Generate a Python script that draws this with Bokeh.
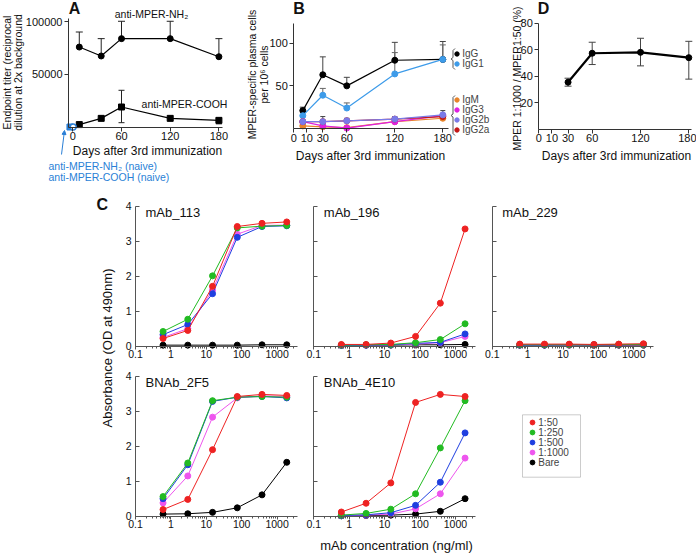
import math
from bokeh.plotting import figure
from bokeh.layouts import row, column
from bokeh.models import (Range1d, FixedTicker, Label, Legend, LegendItem, Whisker,
                          TeeHead, NormalHead, Arrow, ColumnDataSource, BoxAnnotation,
                          NumeralTickFormatter, LogTicker)
from bokeh.embed import file_html
from bokeh.resources import INLINE

FONT = "Liberation Sans"

# ---------------- data ----------------
# Panel A : endpoint titers
a_days = [8, 35, 60, 120, 180]
a_nh2 = [76000, 67500, 84000, 84000, 66800]
a_nh2_hi = [90300, 84000, 100500, 100500, 84000]
a_cooh = [2300, 8200, 19000, 8200, 6300]
a_cooh_lo = [2300, 8200, 4100, 8200, 3000]
a_cooh_hi = [2300, 8200, 34900, 8200, 8500]
a_naive_days = [-3.5, 0.5]
a_naive_vals = [0, 0]
a_xticks = [0, 60, 120, 180]
a_yticks = [50000, 100000]

# Panel B : plasma cells per 10^6 cells
b_days = [5, 30, 60, 120, 180]
b_igg = [21, 63, 50, 80, 81]
b_igg_hi = [25, 84, 60, 101, 102]
b_igg1 = [15, 39, 24, 64, 81]
b_igg1_hi = [15, 47, 30, 89, 98]
b_igm = [3, 2, 1, 8, 12]
b_igg3 = [8, 3, 0.5, 8, 15]
b_igg2b = [8, 8, 9, 11, 16]
b_igg2b_hi = [8, 14, 12, 14, 21]
b_igg2a = [8, 8, 9, 11, 14]
b_xticks = [10, 30, 60, 120, 180]
b_yticks = [50, 100]

# Panel D : MPER 1:1000 / MPER 1:50 (%)
d_days = [30, 60, 120, 180]
d_vals = [35.5, 57.3, 58.0, 54.0]
d_lo = [32.5, 48.8, 47.8, 37.8]
d_hi = [38.5, 65.6, 68.6, 66.3]
d_xticks = [10, 30, 60, 120, 180]
d_yticks = [20, 40, 60, 80]

# Panel C : absorbance vs mAb concentration (ng/ml)
c_conc = [0.6, 3, 15, 75, 375, 1875]
c_dilutions = ["1:50", "1:250", "1:500", "1:1000", "Bare"]
c_113 = {"1:50": [0.22, 0.45, 1.71, 3.42, 3.51, 3.55],
         "1:250": [0.42, 0.77, 2.01, 3.38, 3.43, 3.45],
         "1:500": [0.33, 0.62, 1.50, 3.11, 3.42, 3.44],
         "1:1000": [0.25, 0.50, 1.60, 3.20, 3.45, 3.46],
         "Bare": [0.03, 0.03, 0.03, 0.03, 0.04, 0.04]}
c_196 = {"1:50": [0.05, 0.05, 0.09, 0.28, 1.23, 3.35],
         "1:250": [0.03, 0.04, 0.05, 0.10, 0.19, 0.64],
         "1:500": [0.02, 0.03, 0.04, 0.08, 0.11, 0.35],
         "1:1000": [0.02, 0.03, 0.04, 0.06, 0.10, 0.28],
         "Bare": [0.03, 0.03, 0.03, 0.04, 0.04, 0.05]}
c_229 = {"1:50": [0.06, 0.06, 0.06, 0.05, 0.06, 0.07],
         "1:250": [0.04, 0.04, 0.04, 0.04, 0.05, 0.05],
         "1:500": [0.03, 0.03, 0.04, 0.04, 0.04, 0.05],
         "1:1000": [0.03, 0.03, 0.03, 0.04, 0.04, 0.04],
         "Bare": [0.03, 0.03, 0.03, 0.03, 0.03, 0.03]}
c_2f5 = {"1:50": [0.19, 0.48, 1.90, 3.42, 3.48, 3.45],
         "1:250": [0.56, 1.52, 3.30, 3.40, 3.42, 3.40],
         "1:500": [0.50, 1.47, 3.28, 3.40, 3.42, 3.38],
         "1:1000": [0.38, 1.15, 2.83, 3.38, 3.44, 3.42],
         "Bare": [0.06, 0.07, 0.11, 0.24, 0.61, 1.54]}
c_4e10 = {"1:50": [0.12, 0.37, 0.95, 3.25, 3.48, 3.42],
          "1:250": [0.03, 0.08, 0.20, 0.64, 1.95, 3.30],
          "1:500": [0.02, 0.04, 0.10, 0.31, 0.97, 2.38],
          "1:1000": [0.02, 0.03, 0.06, 0.21, 0.64, 1.66],
          "Bare": [0.01, 0.02, 0.03, 0.06, 0.14, 0.50]}
c_yticks = [0, 1, 2, 3, 4]

C_COLORS = {"1:50": "#ee2222", "1:250": "#22bb22", "1:500": "#1f3fe0",
            "1:1000": "#ee55ee", "Bare": "#000000"}
NAIVE_BLUE = "#2a7fd6"
AX = "#333333"


# ---------------- helpers ----------------
def lin_x(box, px_zero, ppu):
    X0, Y0, W, H = box
    return Range1d((X0 - px_zero) / ppu, (X0 + W - px_zero) / ppu)


def lin_y(box, py_zero, ppu):
    X0, Y0, W, H = box
    return Range1d((py_zero - (Y0 + H)) / ppu, (py_zero - Y0) / ppu)


def log_x(box, px_one, ppd):
    X0, Y0, W, H = box
    return Range1d(10 ** ((X0 - px_one) / ppd), 10 ** ((X0 + W - px_one) / ppd))


def mkfig(box, xr, yr, log=False, axes=True):
    X0, Y0, W, H = box
    kw = dict(width=W, height=H, x_range=xr, y_range=yr, title=None,
              toolbar_location=None, output_backend="svg",
              min_border=0, min_border_left=0, min_border_right=0,
              min_border_top=0, min_border_bottom=0)
    if log:
        kw["x_axis_type"] = "log"
    if not axes:
        kw["x_axis_location"] = None
        kw["y_axis_location"] = None
    p = figure(**kw)
    p.outline_line_color = None
    p.grid.visible = False
    p.background_fill_color = "white"
    p.border_fill_color = "white"
    return p


def style_axis(ax, fs="11px", color=AX):
    ax.axis_line_color = color
    ax.major_tick_line_color = color
    ax.minor_tick_line_color = None
    ax.major_label_text_font = FONT
    ax.major_label_text_font_size = fs
    ax.major_label_text_color = "#111111"
    ax.major_tick_in = 0
    ax.major_tick_out = 4
    ax.major_label_standoff = 2


def lab(p, box, px, py, text, size, align="center", baseline="middle",
        angle=0.0, color="#111111", bold=False):
    X0, Y0, W, H = box
    p.add_layout(Label(x=px - X0, y=Y0 + H - py, x_units="screen", y_units="screen",
                       text=text, text_font=FONT, text_font_size=f"{size}px",
                       text_align=align, text_baseline=baseline, angle=angle,
                       text_color=color,
                       text_font_style="bold" if bold else "normal"))


def seg(p, box, x0, y0, x1, y1, color, head=None, width=1):
    X0, Y0, W, H = box
    p.add_layout(Arrow(x_start=x0 - X0, y_start=Y0 + H - y0, x_end=x1 - X0, y_end=Y0 + H - y1,
                       start_units="screen", end_units="screen", end=head,
                       line_color=color, line_width=width))


def whisk(p, base, lo, hi, color, lower=False, size=7, width=1):
    b2, l2, h2 = [], [], []
    for b, l, h in zip(base, lo, hi):
        if h - l > 0:
            b2.append(b); l2.append(l); h2.append(h)
    src = ColumnDataSource(dict(base=b2, lower=l2, upper=h2))
    p.add_layout(Whisker(base="base", lower="lower", upper="upper", source=src,
                         dimension="height", line_color=color, line_width=width,
                         upper_head=TeeHead(size=size, line_color=color, line_width=width),
                         lower_head=TeeHead(size=size, line_color=color, line_width=width) if lower else None))


def one_legend(p, box, renderer, text, dot_x, cy, glyph, fs, h):
    X0, Y0, W, H = box
    p.add_layout(Legend(items=[LegendItem(label=text, renderers=[renderer])],
                        location=(dot_x - glyph / 2 - X0, Y0 + H - (cy + h / 2)),
                        border_line_color=None, background_fill_alpha=0,
                        inactive_fill_alpha=0, padding=0, margin=0,
                        glyph_width=glyph, glyph_height=glyph, label_standoff=0,
                        label_height=int(h), label_text_font=FONT,
                        label_text_font_size=fs))


# ---------------- Panel A ----------------
BA = (0, 0, 240, 190)
A = mkfig(BA, lin_x(BA, 72.3, 0.8117), lin_y(BA, 126.5, 52.6 / 50000))
style_axis(A.xaxis[0]); style_axis(A.yaxis[0])
A.xaxis.fixed_location = 0
A.xaxis.bounds = (-5.3, 184)
A.xaxis.ticker = FixedTicker(ticks=a_xticks)
A.xaxis.major_label_standoff = 1
A.yaxis.fixed_location = -5.3
A.yaxis.bounds = (0, 102800)
A.yaxis.ticker = FixedTicker(ticks=a_yticks)
A.yaxis.formatter = NumeralTickFormatter(format="0")
whisk(A, a_days, a_nh2, a_nh2_hi, "#222222")
whisk(A, a_days, a_cooh_lo, a_cooh_hi, "#222222", lower=True, size=6)
A.line(a_days, a_nh2, line_color="black", line_width=1.2)
A.scatter(a_days, a_nh2, marker="circle", size=6, color="black")
A.line(a_days, a_cooh, line_color="black", line_width=1.2)
A.scatter(a_days, a_cooh, marker="square", size=6, color="black")
A.scatter(a_naive_days[:1], a_naive_vals[:1], marker="square", size=6, color=NAIVE_BLUE)
A.scatter(a_naive_days[1:], a_naive_vals[1:], marker="circle", size=6,
          fill_color="white", line_color=NAIVE_BLUE, line_width=1.5)
lab(A, BA, 74, 8, "A", 16, bold=True)
lab(A, BA, 151, 13, "anti-MPER-NH\u2082", 10.5)
lab(A, BA, 184, 103, "anti-MPER-COOH", 10.5)
lab(A, BA, 147, 150, "Days after 3rd immunization", 12)
lab(A, BA, 48, 165, "anti-MPER-NH\u2082 (naive)", 10.5, align="left", color=NAIVE_BLUE)
lab(A, BA, 48, 176, "anti-MPER-COOH (naive)", 10.5, align="left", color=NAIVE_BLUE)
lab(A, BA, 6.5, 72, "Endpoint titer (reciprocal", 10.5, angle=math.pi / 2)
lab(A, BA, 17.5, 72, "dilution at 2x background", 10.5, angle=math.pi / 2)
seg(A, BA, 61, 154, 64, 130, NAIVE_BLUE,
    head=NormalHead(size=4, fill_color=NAIVE_BLUE, line_color=NAIVE_BLUE))

# ---------------- Panel B ----------------
BB = (240, 0, 250, 190)
B = mkfig(BB, lin_x(BB, 298.3, 0.8), lin_y(BB, 128, 0.853))
style_axis(B.xaxis[0]); style_axis(B.yaxis[0])
B.xaxis.fixed_location = 0
B.xaxis.bounds = (-6.25, 187)
B.xaxis.ticker = FixedTicker(ticks=[-6.25] + b_xticks)
B.xaxis.major_label_overrides = {-6.25: "0"}
B.xaxis.major_label_standoff = 1
B.yaxis.fixed_location = -6.25
B.yaxis.bounds = (0, 123)
B.yaxis.ticker = FixedTicker(ticks=b_yticks)
whisk(B, b_days, b_igg, b_igg_hi, "#444444", size=6)
whisk(B, b_days, b_igg1, b_igg1_hi, "#666666", size=6)
whisk(B, b_days, b_igg2b, b_igg2b_hi, "#444444", size=5)
b_specs = [("IgG", b_igg, "#000000"), ("IgG1", b_igg1, "#3d9be9"),
           ("IgM", b_igm, "#e8832a"), ("IgG3", b_igg3, "#e020e0"),
           ("IgG2a", b_igg2a, "#c41818"), ("IgG2b", b_igg2b, "#7a7ae8")]
b_rend = {}
for name, vals, col in b_specs:
    B.line(b_days, vals, line_color=col, line_width=1.2)
    b_rend[name] = B.scatter(b_days, vals, marker="circle", size=6, color=col)
lab(B, BB, 298.5, 8, "B", 16, bold=True)
lab(B, BB, 370, 155, "Days after 3rd immunization", 12)
lab(B, BB, 251.7, 74, "MPER-specific plasma cells", 10.5, angle=math.pi / 2)
lab(B, BB, 263.5, 74, "per 10\u2076 cells", 10.5, angle=math.pi / 2)
for name, cy in [("IgG", 53.7), ("IgG1", 63.7), ("IgM", 100), ("IgG3", 110),
                 ("IgG2b", 120), ("IgG2a", 130)]:
    one_legend(B, BB, b_rend[name], name, 456.7, cy, 11, "10px", 10)
for (y0, y1) in [(48, 69), (95, 135)]:
    ym = (y0 + y1) / 2
    pts = [(454.5, y0), (452.5, y0 + 2), (452.5, ym - 1.5), (450.5, ym),
           (452.5, ym + 1.5), (452.5, y1 - 2), (454.5, y1)]
    for (xa, ya), (xb, yb) in zip(pts[:-1], pts[1:]):
        seg(B, BB, xa, ya, xb, yb, "#555555")

# ---------------- Panel D ----------------
BD = (490, 0, 206, 190)
D = mkfig(BD, lin_x(BD, 543.4, 0.805), lin_y(BD, 128.8, 1.327))
style_axis(D.xaxis[0]); style_axis(D.yaxis[0])
D.xaxis.fixed_location = 0
D.xaxis.bounds = (-6.3, 183)
D.xaxis.ticker = FixedTicker(ticks=[-6.3] + d_xticks)
D.xaxis.major_label_overrides = {-6.3: "0"}
D.xaxis.major_label_standoff = 1
D.yaxis.fixed_location = -6.3
D.yaxis.bounds = (0, 80)
D.yaxis.ticker = FixedTicker(ticks=d_yticks)
whisk(D, d_days, d_lo, d_hi, "#444444", lower=True, size=7)
D.line(d_days, d_vals, line_color="black", line_width=2.2)
D.scatter(d_days, d_vals, marker="circle", size=6, color="black")
lab(D, BD, 543, 8, "D", 16, bold=True)
lab(D, BD, 616, 155, "Days after 3rd immunization", 12)
lab(D, BD, 516.7, 78, "MPER 1:1000 / MPER1:50 (%)", 10.5, angle=math.pi / 2)

# ---------------- Panel C ----------------
BS = (0, 190, 120, 363)
S = mkfig(BS, Range1d(0, 1), Range1d(0, 1), axes=False)
lab(S, BS, 101.7, 204, "C", 16, bold=True)
lab(S, BS, 106.7, 347.5, "Absorbance (OD at 490nm)", 13, angle=math.pi / 2)


def cfig(box, px_one, py_zero, labels, data, title):
    p = mkfig(box, log_x(box, px_one, 35.4), lin_y(box, py_zero, 35), log=True)
    style_axis(p.xaxis[0], fs="10.5px", color="#555555")
    style_axis(p.yaxis[0], fs="10.5px", color="#555555")
    p.xaxis.fixed_location = 0
    p.xaxis.bounds = (0.1, 3700)
    p.xaxis.ticker = LogTicker(mantissas=[1], num_minor_ticks=10)
    p.xaxis.formatter = NumeralTickFormatter(format="0.[0]")
    p.xaxis.minor_tick_line_color = "#555555"
    p.xaxis.major_tick_out = 3
    p.xaxis.minor_tick_out = 2
    p.xaxis.minor_tick_in = 0
    p.xaxis.major_label_standoff = 1
    p.yaxis.fixed_location = 0.1
    p.yaxis.bounds = (0, 4)
    p.yaxis.ticker = FixedTicker(ticks=c_yticks)
    p.yaxis.major_tick_in = 4
    p.yaxis.major_tick_out = 0
    p.yaxis.major_label_standoff = 4
    if not labels:
        p.yaxis.major_label_overrides = {t: "" for t in c_yticks}
    for key in ["Bare", "1:1000", "1:500", "1:250", "1:50"]:
        col = C_COLORS[key]
        p.line(c_conc, data[key], line_color=col, line_width=1)
        p.scatter(c_conc, data[key], marker="circle", size=6, color=col)
    ax_px = px_one - 35.4
    lab(p, box, ax_px + 10, py_zero - 4 * 35 + 6.5, title, 13, align="left")
    return p


BC1 = (120, 190, 180, 172); BC2 = (300, 190, 180, 172); BC3 = (480, 190, 216, 172)
BC4 = (120, 362, 180, 191); BC5 = (300, 362, 180, 191); BL = (480, 362, 216, 191)
C1 = cfig(BC1, 170.4, 345.7, True, c_113, "mAb_113")
C2 = cfig(BC2, 348.7, 345.7, False, c_196, "mAb_196")
C3 = cfig(BC3, 527.1, 345.7, False, c_229, "mAb_229")
C4 = cfig(BC4, 170.4, 515.7, True, c_2f5, "BNAb_2F5")
C5 = cfig(BC5, 348.7, 515.7, False, c_4e10, "BNAb_4E10")
lab(C5, BC5, 396, 545, "mAb concentration (ng/ml)", 13)

# legend cell: hidden copies of the 2F5 series supply the legend glyphs
L = mkfig(BL, Range1d(0, BL[2]), Range1d(0, BL[3]), axes=False)
L.add_layout(BoxAnnotation(left=522 - BL[0], right=580 - BL[0],
                           bottom=BL[1] + BL[3] - 476.7, top=BL[1] + BL[3] - 414.3,
                           fill_color=None, line_color="#555555", line_width=1))
for i, key in enumerate(c_dilutions):
    r = L.scatter(c_conc, c_2f5[key], marker="circle", size=6, color=C_COLORS[key])
    r.visible = False
    one_legend(L, BL, r, key, 532.3, 423.3 + 10 * i, 12, "10px", 10)

layout = column(row(A, B, D),
                row(S, column(row(C1, C2, C3), row(C4, C5, L))))

open("out.html", "w").write(file_html(layout, INLINE))
